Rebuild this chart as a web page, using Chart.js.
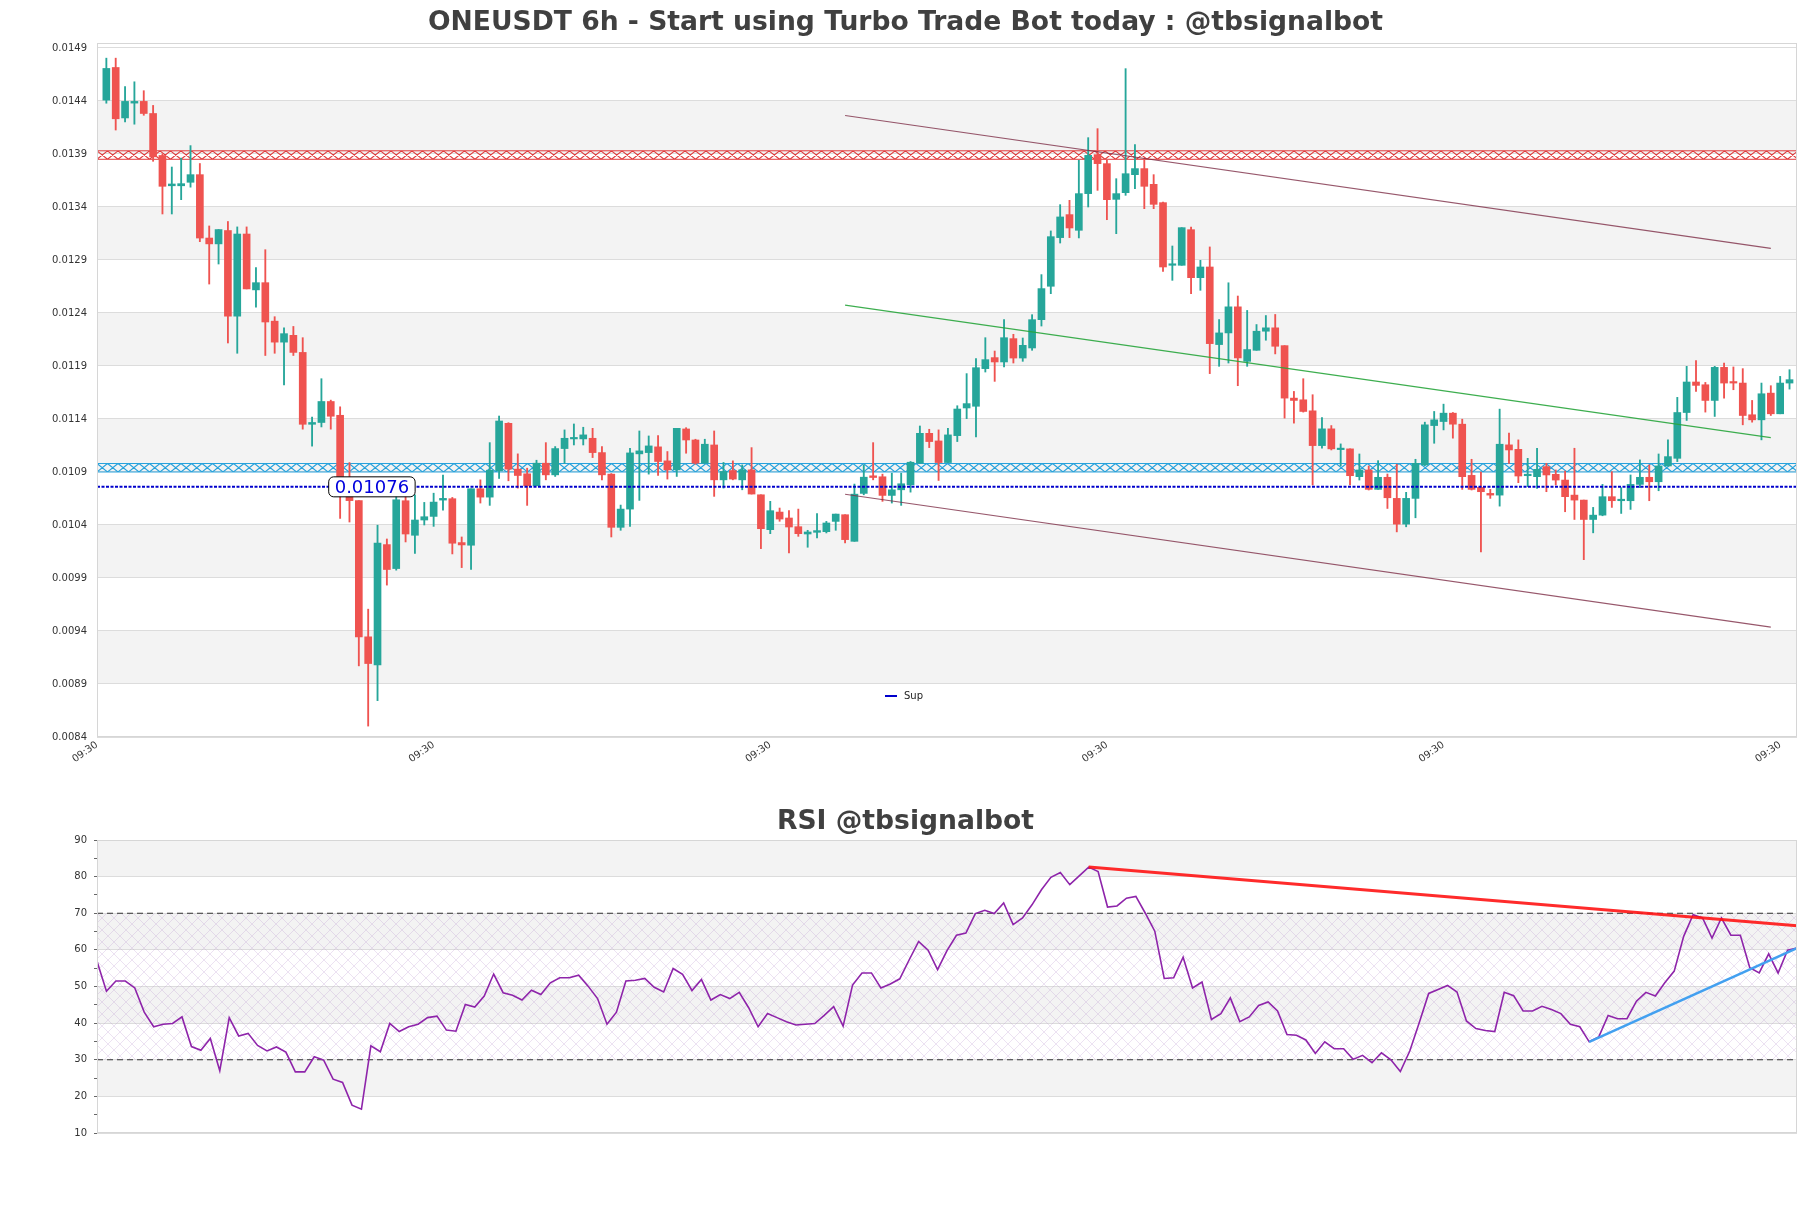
<!DOCTYPE html>
<html>
<head>
<meta charset="utf-8">
<title>ONEUSDT 6h</title>
<script src="https://cdn.jsdelivr.net/npm/chart.js@4.4.0/dist/chart.umd.min.js"></script>
<style>
  body { margin: 0; background: #fff; }
  #wrap { position: relative; width: 1811px; height: 1208px; }
  canvas { position: absolute; left: 0; }
  #priceChart { top: 0; }
  #rsiChart { top: 780px; }
</style>
</head>
<body>
<div id="wrap">
  <canvas id="priceChart" width="1811" height="780"></canvas>
  <canvas id="rsiChart" width="1811" height="428"></canvas>
</div>
<script>
// ---- candles (6h) ----
var open = [0.014408,0.014716,0.014240,0.014380,0.014396,0.014282,0.013886,0.013600,0.013600,0.013633,
 0.013705,0.013107,0.013052,0.013178,0.012370,0.013145,0.012618,0.012686,0.012323,0.012125,
 0.012189,0.012028,0.011350,0.011367,0.011565,0.011435,0.010693,0.010630,0.009345,0.009080,
 0.010215,0.009989,0.010629,0.010303,0.010447,0.010481,0.010635,0.010648,0.010234,0.010209,
 0.010742,0.010663,0.010911,0.011359,0.010927,0.010883,0.010770,0.010983,0.010873,0.011121,
 0.011212,0.011212,0.011218,0.011083,0.010880,0.010378,0.010550,0.011071,0.011083,0.011137,
 0.011005,0.010920,0.011306,0.011202,0.010983,0.011155,0.010826,0.010914,0.010826,0.010920,
 0.010685,0.010356,0.010522,0.010466,0.010384,0.010315,0.010331,0.010337,0.010434,0.010497,
 0.010246,0.010698,0.010864,0.010855,0.010679,0.010732,0.010779,0.010983,0.011265,0.011193,
 0.010989,0.011243,0.011504,0.011520,0.011875,0.011979,0.011938,0.012158,0.011975,0.012070,
 0.012337,0.012652,0.013111,0.013328,0.013180,0.013526,0.013894,0.013809,0.013472,0.013535,
 0.013705,0.013762,0.013614,0.013441,0.012850,0.012850,0.013186,0.012733,0.012834,0.012102,
 0.012212,0.012458,0.011944,0.012048,0.012228,0.012260,0.012092,0.011597,0.011581,0.011477,
 0.011149,0.011307,0.011111,0.011118,0.010856,0.010919,0.010736,0.010850,0.010651,0.010408,
 0.010651,0.010966,0.011338,0.011376,0.011455,0.011351,0.010868,0.010755,0.010698,0.010682,
 0.011156,0.011114,0.010865,0.010856,0.010951,0.010878,0.010824,0.010682,0.010635,0.010452,
 0.010493,0.010667,0.010629,0.010629,0.010783,0.010850,0.010808,0.010957,0.011029,0.011461,
 0.011749,0.011723,0.011575,0.011887,0.011749,0.011739,0.011440,0.011392,0.011644,0.011449,
 0.011739]
var high = [0.014804,0.014804,0.014535,0.014581,0.014497,0.014358,0.013900,0.013777,0.013861,0.013979,
 0.013810,0.013221,0.013187,0.013263,0.013212,0.013212,0.012829,0.012997,0.012365,0.012260,
 0.012273,0.012167,0.011418,0.011780,0.011578,0.011515,0.010989,0.010630,0.009606,0.010398,
 0.010268,0.010685,0.010685,0.010685,0.010613,0.010700,0.010870,0.010660,0.010287,0.010742,
 0.010826,0.011177,0.011428,0.011365,0.011071,0.010936,0.011011,0.011177,0.011140,0.011297,
 0.011353,0.011322,0.011312,0.011140,0.010885,0.010588,0.011124,0.011287,0.011240,0.011243,
 0.011093,0.011312,0.011318,0.011209,0.011209,0.011287,0.010990,0.011005,0.010967,0.011130,
 0.010685,0.010623,0.010560,0.010535,0.010550,0.010350,0.010507,0.010434,0.010503,0.010497,
 0.010786,0.010967,0.011177,0.010880,0.010889,0.010889,0.010999,0.011334,0.011303,0.011297,
 0.011312,0.011525,0.011828,0.011969,0.012167,0.012041,0.012337,0.012199,0.012164,0.012384,
 0.012762,0.013174,0.013422,0.013463,0.013840,0.014054,0.014139,0.013840,0.013667,0.014705,
 0.013988,0.013856,0.013705,0.013447,0.013032,0.013205,0.013211,0.012897,0.013023,0.012338,
 0.012685,0.012560,0.012424,0.012291,0.012376,0.012386,0.012092,0.011660,0.011780,0.011629,
 0.011414,0.011338,0.011165,0.011118,0.011070,0.010957,0.011007,0.010881,0.010973,0.010708,
 0.011020,0.011370,0.011471,0.011540,0.011461,0.011398,0.011020,0.010900,0.010736,0.011493,
 0.011266,0.011203,0.011029,0.011124,0.010982,0.010919,0.010909,0.011124,0.010635,0.010566,
 0.010783,0.010903,0.010752,0.010872,0.011014,0.010966,0.011070,0.011203,0.011604,0.011897,
 0.011950,0.011745,0.011897,0.011928,0.011891,0.011875,0.011575,0.011739,0.011714,0.011802,
 0.011865]
var low = [0.014379,0.014126,0.014202,0.014181,0.014265,0.013831,0.013334,0.013334,0.013469,0.013587,
 0.013073,0.012673,0.012862,0.012117,0.012020,0.012627,0.012454,0.011999,0.012020,0.011721,
 0.011999,0.011304,0.011144,0.011325,0.011304,0.010462,0.010428,0.009071,0.008503,0.008743,
 0.009833,0.009974,0.010240,0.010133,0.010400,0.010387,0.010541,0.010127,0.009998,0.009980,
 0.010607,0.010585,0.010839,0.010817,0.010748,0.010585,0.010770,0.010826,0.010858,0.010983,
 0.011155,0.011155,0.011036,0.010826,0.010287,0.010350,0.010387,0.010632,0.010880,0.010867,
 0.010833,0.010858,0.011077,0.010974,0.010983,0.010670,0.010748,0.010826,0.010732,0.010692,
 0.010177,0.010318,0.010435,0.010137,0.010293,0.010190,0.010278,0.010325,0.010350,0.010231,
 0.010246,0.010685,0.010826,0.010623,0.010607,0.010585,0.010710,0.010983,0.011130,0.010820,
 0.010989,0.011187,0.011403,0.011230,0.011843,0.011755,0.011891,0.011928,0.011944,0.012048,
 0.012277,0.012582,0.013060,0.013111,0.013108,0.013400,0.013557,0.013280,0.013148,0.013510,
 0.013573,0.013384,0.013384,0.012793,0.012708,0.012850,0.012582,0.012614,0.011828,0.011897,
 0.011928,0.011714,0.011897,0.012048,0.012143,0.012014,0.011408,0.011361,0.011465,0.010777,
 0.011124,0.011108,0.010957,0.010777,0.010824,0.010730,0.010736,0.010556,0.010335,0.010383,
 0.010468,0.010960,0.011171,0.011297,0.011219,0.010736,0.010730,0.010146,0.010651,0.010578,
 0.010982,0.010799,0.010761,0.010745,0.010714,0.010777,0.010525,0.010452,0.010073,0.010326,
 0.010487,0.010566,0.010509,0.010547,0.010752,0.010629,0.010723,0.010957,0.010998,0.011386,
 0.011660,0.011465,0.011424,0.011597,0.011676,0.011345,0.011370,0.011203,0.011433,0.011449,
 0.011682]
var close = [0.014707,0.014232,0.014396,0.014396,0.014282,0.013873,0.013595,0.013617,0.013620,0.013705,
 0.013107,0.013052,0.013187,0.012370,0.013145,0.012627,0.012686,0.012315,0.012125,0.012205,
 0.012028,0.011350,0.011367,0.011565,0.011426,0.010693,0.010630,0.009345,0.009093,0.010230,
 0.009980,0.010638,0.010315,0.010447,0.010478,0.010616,0.010651,0.010228,0.010212,0.010742,
 0.010663,0.010917,0.011381,0.010927,0.010867,0.010770,0.010983,0.010873,0.011121,0.011218,
 0.011218,0.011250,0.011083,0.010873,0.010378,0.010550,0.011080,0.011099,0.011146,0.010999,
 0.010920,0.011312,0.011202,0.010983,0.011162,0.010826,0.010905,0.010833,0.010920,0.010692,
 0.010365,0.010535,0.010456,0.010381,0.010318,0.010334,0.010347,0.010419,0.010503,0.010262,
 0.010691,0.010851,0.010848,0.010679,0.010732,0.010789,0.010992,0.011265,0.011187,0.010989,
 0.011250,0.011494,0.011545,0.011884,0.011960,0.011938,0.012167,0.011975,0.012095,0.012337,
 0.012630,0.013120,0.013306,0.013202,0.013526,0.013887,0.013809,0.013469,0.013526,0.013714,
 0.013762,0.013595,0.013425,0.012834,0.012856,0.013205,0.012733,0.012834,0.012111,0.012212,
 0.012458,0.011976,0.012055,0.012228,0.012260,0.012086,0.011597,0.011575,0.011471,0.011149,
 0.011307,0.011118,0.011118,0.010865,0.010919,0.010736,0.010850,0.010657,0.010408,0.010651,
 0.010982,0.011345,0.011392,0.011455,0.011351,0.010856,0.010736,0.010714,0.010682,0.011162,
 0.011108,0.010862,0.010878,0.010925,0.010872,0.010824,0.010667,0.010635,0.010452,0.010493,
 0.010667,0.010629,0.010641,0.010783,0.010850,0.010808,0.010957,0.011045,0.011461,0.011749,
 0.011717,0.011575,0.011887,0.011739,0.011739,0.011433,0.011392,0.011638,0.011449,0.011739,
 0.011771]

// ---- RSI ----
var rsi = [56.9,48.7,51.5,51.5,49.6,43.0,39.0,39.7,39.9,41.7,
 33.6,32.6,35.8,27.0,41.5,36.5,37.2,33.9,32.4,33.5,
 32.1,26.7,26.7,30.8,29.9,24.7,23.8,17.6,16.5,33.8,
 32.2,39.9,37.7,39.0,39.7,41.5,41.9,38.1,37.8,45.1,
 44.4,47.4,53.4,48.3,47.6,46.3,49.0,47.8,51.0,52.4,
 52.4,53.1,50.1,46.7,39.7,43.0,51.5,51.7,52.2,49.8,
 48.5,54.9,53.3,48.9,51.9,46.3,47.8,46.7,48.4,44.2,
 39.0,42.6,41.5,40.4,39.5,39.7,39.9,42.1,44.5,39.2,
 50.4,53.7,53.7,49.6,50.7,52.1,57.3,62.3,59.9,54.6,
 59.8,64.0,64.6,69.9,70.8,69.9,72.8,66.9,68.7,72.3,
 76.4,79.8,81.1,77.8,80.2,82.6,81.4,71.7,72.0,74.1,
 74.6,70.0,65.1,52.2,52.4,58.0,49.6,51.2,41.0,42.6,
 46.9,40.4,41.7,44.8,45.8,43.3,36.9,36.7,35.4,31.7,
 34.9,33.0,33.0,30.1,31.2,29.2,31.9,30.0,26.8,32.4,
 40.1,48.1,49.2,50.3,48.5,40.6,38.5,38.0,37.7,48.4,
 47.5,43.3,43.3,44.6,43.7,42.6,39.7,39.0,34.9,36.2,
 42.1,41.2,41.2,46.0,48.4,47.4,51.0,54.2,63.7,69.6,
 68.7,63.2,68.7,64.0,64.0,55.1,53.7,58.9,53.7,59.9,
 60.5]

// ---- levels and trend lines ----
var supLevel = 0.01076
var resistZone = [0.01385, 0.01393]
var supportZone = [0.01090, 0.01098]
var trendX = [79, 178]
var upperTrend = [0.014263, 0.013010]
var lowerTrend = [0.010690, 0.009436]
var midTrend = [0.012475, 0.011224]
var rsiResX = [105, 180]
var rsiRes = [82.6, 66.6]
var rsiSupX = [158, 180]
var rsiSup = [34.9, 60.5]

// ---- axes ----
var xTickPos = [-1, 35, 71, 107, 143, 179]
var xTickLabels = ['09:30', '09:30', '09:30', '09:30', '09:30', '09:30']
var yTicks = [0.0084,0.0089,0.0094,0.0099,0.0104,0.0109,0.0114,0.0119,0.0124,0.0129,0.0134,0.0139,0.0144,0.0149]
var rsiTicks = [10,15,20,25,30,35,40,45,50,55,60,65,70,75,80,85,90]

var FONT = "'DejaVu Sans', 'Liberation Sans', sans-serif"
var GREEN = '#26a69a'
var RED = '#ef5350'

var idx = open.map(function(v, i){ return i })
var candleColors = idx.map(function(i){ return close[i] >= open[i] ? GREEN : RED })

function hatchBand(ctx, left, right, top, bottom, color, step){
	ctx.save()
	ctx.beginPath()
	ctx.rect(left, top, right - left, bottom - top)
	ctx.clip()
	ctx.strokeStyle = color
	ctx.lineWidth = 1.1
	ctx.beginPath()
	for (var x = left - step; x < right + step; x += step) {
		ctx.moveTo(x, top); ctx.lineTo(x + step, bottom)
		ctx.moveTo(x + step, top); ctx.lineTo(x, bottom)
	}
	ctx.stroke()
	ctx.restore()
	ctx.save()
	ctx.strokeStyle = color
	ctx.lineWidth = 1
	ctx.beginPath()
	ctx.moveTo(left, top); ctx.lineTo(right, top)
	ctx.moveTo(left, bottom); ctx.lineTo(right, bottom)
	ctx.stroke()
	ctx.restore()
}

var bgPlugin = {
	id: 'bgBands',
	beforeDraw: function(chart, args, opts){
		var ctx = chart.ctx, a = chart.chartArea, y = chart.scales.y
		ctx.save()
		ctx.fillStyle = '#fff'
		ctx.fillRect(0, 0, chart.width, chart.height)
		ctx.fillStyle = '#f3f3f3'
		opts.bands.forEach(function(b){
			var y1 = y.getPixelForValue(b[1]), y0 = y.getPixelForValue(b[0])
			ctx.fillRect(a.left, y1, a.right - a.left, y0 - y1)
		})
		ctx.restore()
	},
	afterDraw: function(chart, args, opts){
		var ctx = chart.ctx, a = chart.chartArea
		ctx.save()
		ctx.strokeStyle = '#d6d6d6'
		ctx.lineWidth = 1
		ctx.strokeRect(a.left + 0.5, a.top + 0.5, a.right - a.left - 1, a.bottom - a.top - 1)
		ctx.fillStyle = '#404040'
		ctx.font = 'bold 26.6px ' + FONT
		ctx.textAlign = 'center'
		ctx.textBaseline = 'middle'
		ctx.fillText(opts.title, chart.width / 2, opts.titleY)
		ctx.restore()
	}
}

var zonePlugin = {
	id: 'zones',
	beforeDatasetsDraw: function(chart){
		var ctx = chart.ctx, a = chart.chartArea, y = chart.scales.y
		hatchBand(ctx, a.left, a.right, y.getPixelForValue(resistZone[1]), y.getPixelForValue(resistZone[0]), '#e0393b', 10.5)
		hatchBand(ctx, a.left, a.right, y.getPixelForValue(supportZone[1]), y.getPixelForValue(supportZone[0]), '#27a2dc', 10.5)
	},
	afterDatasetsDraw: function(chart){
		var ctx = chart.ctx, a = chart.chartArea, y = chart.scales.y, x = chart.scales.x
		// value label on the Sup line
		ctx.save()
		ctx.font = '18px ' + FONT
		var txt = supLevel.toFixed(5)
		var w = ctx.measureText(txt).width + 12
		var cx = x.getPixelForValue(28.4), cy = y.getPixelForValue(supLevel)
		ctx.beginPath()
		ctx.roundRect(cx - w / 2, cy - 10, w, 20, 5)
		ctx.fillStyle = '#fff'
		ctx.fill()
		ctx.strokeStyle = '#000'
		ctx.lineWidth = 1
		ctx.stroke()
		ctx.fillStyle = '#0000dd'
		ctx.textAlign = 'center'
		ctx.textBaseline = 'middle'
		ctx.fillText(txt, cx, cy + 1)
		// legend
		var lx = 885, ly = a.bottom - 41
		ctx.strokeStyle = '#0000cc'
		ctx.lineWidth = 2
		ctx.beginPath()
		ctx.moveTo(lx, ly); ctx.lineTo(lx + 12, ly)
		ctx.stroke()
		ctx.fillStyle = '#222'
		ctx.font = '10px ' + FONT
		ctx.textAlign = 'left'
		ctx.fillText('Sup', lx + 19, ly)
		ctx.restore()
	}
}

function line2(xs, ys){
	return [{x: xs[0], y: ys[0]}, {x: xs[1], y: ys[1]}]
}

var priceChart = new Chart(document.getElementById('priceChart').getContext('2d'), {
	type: 'bar',
	data: {
		datasets: [
			{
				label: 'wick',
				data: idx.map(function(i){ return {x: i, y: [low[i], high[i]]} }),
				backgroundColor: candleColors,
				barThickness: 1.2,
				grouped: false,
				order: 5
			},
			{
				label: 'body',
				data: idx.map(function(i){ return {x: i, y: [Math.min(open[i], close[i]), Math.max(open[i], close[i])]} }),
				backgroundColor: candleColors,
				barThickness: 7,
				minBarLength: 1.5,
				grouped: false,
				order: 4
			},
			{
				type: 'line', label: 'Sup',
				data: [{x: -1, y: supLevel}, {x: 180.8, y: supLevel}],
				borderColor: '#0000cc', borderWidth: 2, borderDash: [3, 1.5],
				pointRadius: 0, order: 1
			},
			{
				type: 'line', label: 'upper',
				data: line2(trendX, upperTrend),
				borderColor: 'rgba(125,45,70,0.8)', borderWidth: 1.2, pointRadius: 0, order: 2
			},
			{
				type: 'line', label: 'lower',
				data: line2(trendX, lowerTrend),
				borderColor: 'rgba(125,45,70,0.8)', borderWidth: 1.2, pointRadius: 0, order: 2
			},
			{
				type: 'line', label: 'mid',
				data: line2(trendX, midTrend),
				borderColor: 'rgba(40,165,60,0.9)', borderWidth: 1.2, pointRadius: 0, order: 2
			}
		]
	},
	options: {
		responsive: false,
		animation: false,
		layout: {padding: {top: 43, right: 14, left: 0, bottom: 0}},
		plugins: {
			legend: {display: false},
			tooltip: {enabled: false},
			bgBands: {
				title: 'ONEUSDT 6h - Start using Turbo Trade Bot today : @tbsignalbot',
				titleY: 23,
				bands: [[0.0139, 0.0144], [0.0129, 0.0134], [0.0119, 0.0124], [0.0109, 0.0114], [0.0099, 0.0104], [0.0089, 0.0094]]
			}
		},
		scales: {
			x: {
				type: 'linear', min: -1, max: 180.8, offset: false,
				grid: {display: false, drawTicks: false},
				border: {display: false},
				afterBuildTicks: function(s){ s.ticks = xTickPos.map(function(v){ return {value: v} }) },
				afterFit: function(s){ s.height = 43 },
				ticks: {
					autoSkip: false, minRotation: 35, maxRotation: 35, padding: 2,
					color: '#333', font: {size: 10, family: FONT},
					callback: function(v){ return xTickLabels[xTickPos.indexOf(v)] }
				}
			},
			y: {
				min: 0.0084, max: 0.014947,
				grid: {color: '#dcdcdc', drawTicks: false},
				border: {display: false},
				afterBuildTicks: function(s){ s.ticks = yTicks.map(function(v){ return {value: v} }) },
				afterFit: function(s){ s.width = 97 },
				ticks: {
					padding: 10, color: '#333', font: {size: 10, family: FONT},
					callback: function(v){ return v.toFixed(4) }
				}
			}
		}
	},
	plugins: [bgPlugin, zonePlugin]
})

// ---- RSI panel ----
var rsiHatchPlugin = {
	id: 'rsiHatch',
	beforeDatasetsDraw: function(chart){
		var ctx = chart.ctx, a = chart.chartArea, y = chart.scales.y
		var pc = document.createElement('canvas')
		pc.width = 12; pc.height = 12
		var p = pc.getContext('2d')
		p.strokeStyle = 'rgba(185,150,210,0.4)'
		p.lineWidth = 0.7
		p.beginPath()
		p.moveTo(0, 0); p.lineTo(12, 12)
		p.moveTo(12, 0); p.lineTo(0, 12)
		p.stroke()
		var top = y.getPixelForValue(70), bottom = y.getPixelForValue(30)
		ctx.save()
		ctx.fillStyle = ctx.createPattern(pc, 'repeat')
		ctx.fillRect(a.left, top, a.right - a.left, bottom - top)
		ctx.restore()
	}
}

var rsiChart = new Chart(document.getElementById('rsiChart').getContext('2d'), {
	type: 'line',
	data: {
		datasets: [
			{
				label: 'RSI',
				data: rsi.map(function(v, i){ return {x: i, y: v} }),
				borderColor: '#8e24aa', borderWidth: 1.6, pointRadius: 0, order: 3
			},
			{
				label: '70', data: [{x: 0, y: 70}, {x: 180, y: 70}],
				borderColor: '#333', borderWidth: 1.2, borderDash: [6, 4], pointRadius: 0, order: 4
			},
			{
				label: '30', data: [{x: 0, y: 30}, {x: 180, y: 30}],
				borderColor: '#333', borderWidth: 1.2, borderDash: [6, 4], pointRadius: 0, order: 4
			},
			{
				label: 'res', data: line2(rsiResX, rsiRes),
				borderColor: 'rgba(255,20,20,0.9)', borderWidth: 3, pointRadius: 0, order: 1
			},
			{
				label: 'sup', data: line2(rsiSupX, rsiSup),
				borderColor: '#42a0f0', borderWidth: 2.5, pointRadius: 0, order: 1
			}
		]
	},
	options: {
		responsive: false,
		animation: false,
		layout: {padding: {top: 60, right: 14, left: 0, bottom: 0}},
		plugins: {
			legend: {display: false},
			tooltip: {enabled: false},
			bgBands: {
				title: 'RSI @tbsignalbot',
				titleY: 42,
				bands: [[80, 90], [60, 70], [40, 50], [20, 30]]
			}
		},
		scales: {
			x: {
				type: 'linear', min: 0, max: 180, offset: false,
				grid: {display: false},
				border: {display: false},
				ticks: {display: false},
				afterFit: function(s){ s.height = 75 }
			},
			y: {
				min: 10, max: 90,
				border: {display: false},
				grid: {
					color: function(c){ return c.tick && c.tick.value % 10 === 0 ? '#dcdcdc' : 'rgba(0,0,0,0)' },
					tickColor: '#666', tickLength: 3
				},
				afterBuildTicks: function(s){ s.ticks = rsiTicks.map(function(v){ return {value: v} }) },
				afterFit: function(s){ s.width = 97 },
				ticks: {
					padding: 7, color: '#333', font: {size: 10, family: FONT},
					callback: function(v){ return v % 10 === 0 ? String(v) : '' }
				}
			}
		}
	},
	plugins: [bgPlugin, rsiHatchPlugin]
})
</script>
</body>
</html>
